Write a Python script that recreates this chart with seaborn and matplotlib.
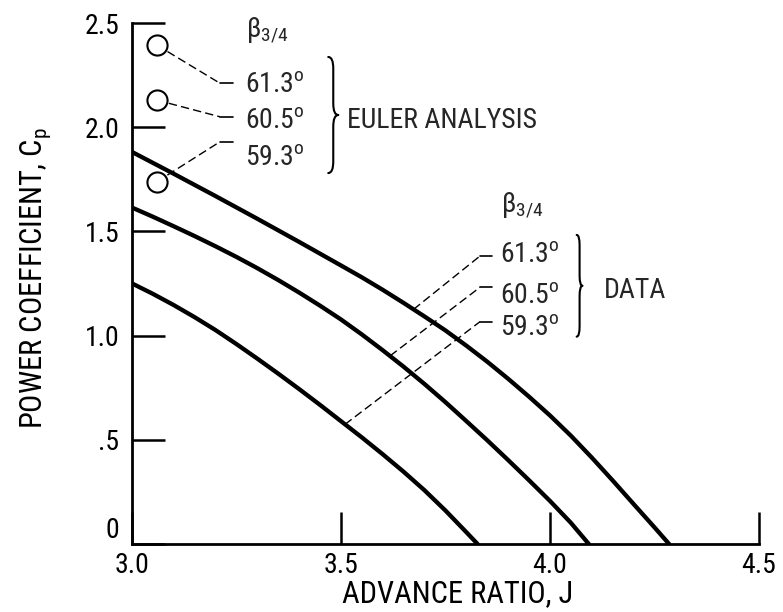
import numpy as np
import pandas as pd
import matplotlib
matplotlib.use("Agg")
import matplotlib.pyplot as plt
from matplotlib import font_manager
from matplotlib.path import Path
from matplotlib.patches import PathPatch
import seaborn as sns

# ---------------- data ----------------
betas = ["61.3", "60.5", "59.3"]

j_613 = [3.0, 3.1, 3.2, 3.3, 3.4, 3.5, 3.55, 3.6, 3.65, 3.7, 3.75, 3.8, 3.85,
         3.9, 3.95, 4.0, 4.05, 4.1, 4.15, 4.2, 4.25, 4.285]
cp_613 = [1.882, 1.777, 1.670, 1.561, 1.450, 1.337, 1.280, 1.220, 1.157, 1.092,
          1.025, 0.952, 0.875, 0.793, 0.707, 0.617, 0.520, 0.415, 0.305, 0.192,
          0.080, 0.0]

j_605 = [3.0, 3.05, 3.1, 3.15, 3.2, 3.25, 3.3, 3.35, 3.4, 3.45, 3.5, 3.55, 3.6,
         3.65, 3.7, 3.75, 3.8, 3.85, 3.9, 3.95, 4.0, 4.05, 4.093]
cp_605 = [1.615, 1.571, 1.525, 1.478, 1.429, 1.378, 1.324, 1.267, 1.207, 1.144,
          1.078, 1.006, 0.930, 0.851, 0.768, 0.681, 0.590, 0.498, 0.403, 0.306,
          0.207, 0.102, 0.0]

j_593 = [3.0, 3.05, 3.1, 3.15, 3.2, 3.25, 3.3, 3.35, 3.4, 3.45, 3.5, 3.55, 3.6,
         3.65, 3.7, 3.75, 3.8, 3.827]
cp_593 = [1.251, 1.201, 1.147, 1.089, 1.027, 0.960, 0.890, 0.818, 0.744, 0.668,
          0.590, 0.512, 0.431, 0.347, 0.258, 0.161, 0.057, 0.0]

euler_j = [3.06, 3.06, 3.06]
euler_cp = [2.394, 2.130, 1.738]

x_ticks = [3.0, 3.5, 4.0, 4.5]
x_ticklabels = ["3.0", "3.5", "4.0", "4.5"]
y_ticks = [0.0, 0.5, 1.0, 1.5, 2.0, 2.5]
y_ticklabels = ["0", ".5", "1.0", "1.5", "2.0", "2.5"]

# ---------------- style ----------------
sns.set_theme(style="ticks")

names = {f.name for f in font_manager.fontManager.ttflist}
cond = {(f.name) for f in font_manager.fontManager.ttflist if str(f.stretch) in ("condensed", "semi-condensed")}
family = None
stretch = "normal"
for cand in ["Liberation Sans Narrow", "Roboto Condensed", "Open Sans Condensed"]:
    if cand in names:
        family = cand
        break
if family is None:
    if "DejaVu Sans" in cond:
        family = "DejaVu Sans"
        stretch = "condensed"
    else:
        family = "Liberation Sans"

plt.rcParams["font.family"] = [family, "DejaVu Sans"]
plt.rcParams["font.stretch"] = stretch
plt.rcParams["mathtext.fontset"] = "custom"
plt.rcParams["mathtext.rm"] = family
plt.rcParams["mathtext.it"] = family
plt.rcParams["mathtext.bf"] = family

fig = plt.figure(figsize=(7.83, 6.12), dpi=100, facecolor="white")
ax = fig.add_axes([131.7 / 783, 68 / 612, 627.3 / 783, 521 / 612])
ax.set_facecolor("white")

df = pd.DataFrame({
    "J": j_613 + j_605 + j_593,
    "Cp": cp_613 + cp_605 + cp_593,
    "beta": [betas[0]] * len(j_613) + [betas[1]] * len(j_605) + [betas[2]] * len(j_593),
})
sns.lineplot(data=df, x="J", y="Cp", units="beta", estimator=None, sort=False,
             color="black", lw=3.1, ax=ax, legend=False, zorder=3)
for ln in ax.get_lines():
    ln.set_solid_joinstyle("round")

# leader lines (drawn under the circle markers)
lead_kw = dict(color="black", lw=1.0, dashes=(6, 3))
solid_kw = dict(color="black", lw=1.2)
euler_elbow_cp = [2.211, 2.050, 1.930]
for jj, cc, ec in zip(euler_j, euler_cp, euler_elbow_cp):
    ax.plot([jj, 3.211], [cc, ec], **lead_kw, zorder=2)
    ax.plot([3.211, 3.243], [ec, ec], **solid_kw, zorder=2)

sns.scatterplot(x=euler_j, y=euler_cp, ax=ax, s=210, marker="o",
                facecolor="white", edgecolor="black", linewidth=1.5, zorder=5, clip_on=False)

data_end_j = [3.674, 3.618, 3.510]
data_end_cp = [1.126, 0.903, 0.574]
data_elbow_cp = [1.382, 1.232, 1.067]
for ej, ecp, elb in zip(data_end_j, data_end_cp, data_elbow_cp):
    ax.plot([ej, 3.833], [ecp, elb], **lead_kw, zorder=2)
    ax.plot([3.833, 3.862], [elb, elb], **solid_kw, zorder=2)

fs_ann = 20
# Euler labels
ax.text(3.274, 2.433, r"β$_{\mathregular{3/4}}$", fontsize=fs_ann, ha="left", va="baseline")
for b, y in zip(betas, [2.169, 1.996, 1.819]):
    ax.text(3.271, y, b + r"$^{\mathregular{o}}$", fontsize=fs_ann, ha="left", va="baseline")
ax.text(3.514, 1.996, "EULER ANALYSIS", fontsize=fs_ann, ha="left", va="baseline")

# Data labels
ax.text(3.883, 1.595, r"β$_{\mathregular{3/4}}$", fontsize=fs_ann, ha="left", va="baseline")
for b, y in zip(betas, [1.353, 1.156, 1.003]):
    ax.text(3.881, y, b + r"$^{\mathregular{o}}$", fontsize=fs_ann, ha="left", va="baseline")
ax.text(4.128, 1.179, "DATA", fontsize=fs_ann, ha="left", va="baseline")


def brace(ax, x0, w, ytop, ybot):
    ym = 0.5 * (ytop + ybot)
    xm = x0 + 0.5 * w
    h = ytop - ybot
    verts = [
        (x0, ytop),
        (xm, ytop), (xm, ytop - 0.1 * h),
        (xm, ym + 0.1 * h),
        (xm, ym), (x0 + w, ym),
        (xm, ym), (xm, ym - 0.1 * h),
        (xm, ybot + 0.1 * h),
        (xm, ybot), (x0, ybot),
    ]
    codes = [Path.MOVETO,
             Path.CURVE3, Path.CURVE3,
             Path.LINETO,
             Path.CURVE3, Path.CURVE3,
             Path.CURVE3, Path.CURVE3,
             Path.LINETO,
             Path.CURVE3, Path.CURVE3]
    ax.add_patch(PathPatch(Path(verts, codes), fill=False, lw=1.5,
                           edgecolor="black", capstyle="round", joinstyle="round"))


brace(ax, 3.470, 0.024, 2.337, 1.780)
brace(ax, 4.064, 0.014, 1.483, 0.995)

# ---------------- axes ----------------
ax.set_xlim(3.0, 4.5)
ax.set_ylim(0.0, 2.5)
ax.set_xticks(x_ticks)
ax.set_xticklabels(x_ticklabels)
ax.set_yticks(y_ticks)
ax.set_yticklabels(y_ticklabels)
ax.tick_params(axis="both", direction="in", colors="black", labelsize=20, width=1.8)
ax.tick_params(axis="y", length=24, pad=9)
ax.tick_params(axis="x", length=23, pad=6)
ax.get_yticklabels()[0].set_verticalalignment("bottom")
sns.despine(ax=ax, top=True, right=True)
for s in ["left", "bottom"]:
    ax.spines[s].set_linewidth(2.0)
    ax.spines[s].set_color("black")

ax.set_xlabel("ADVANCE RATIO, J", fontsize=22, color="black")
ax.set_ylabel(r"POWER COEFFICIENT, $\mathregular{C_p}$", fontsize=22, color="black")
ax.xaxis.set_label_coords(0.52, -0.068)
ax.yaxis.set_label_coords(-0.125, 0.51)

fig.savefig("out.png", dpi=100, facecolor="white")
